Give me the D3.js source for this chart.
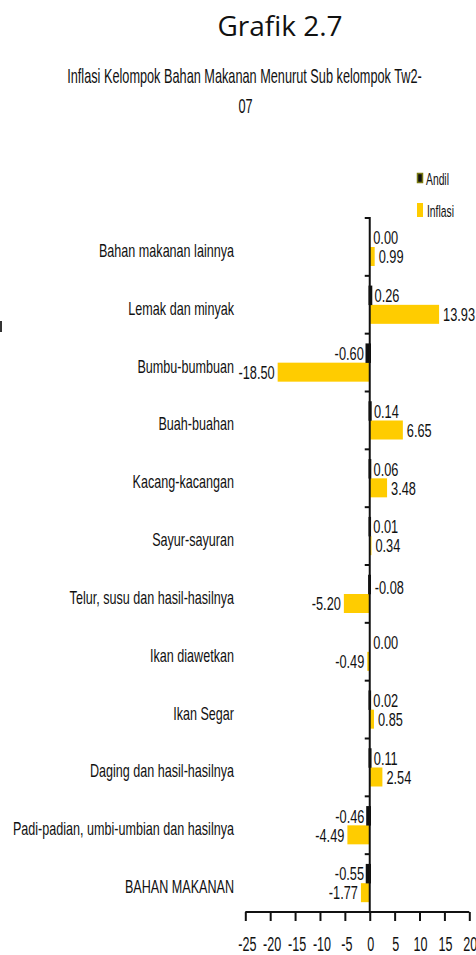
<!DOCTYPE html>
<html>
<head>
<meta charset="utf-8">
<script src="https://cdn.jsdelivr.net/npm/d3@7"></script>
<style>
  html, body { margin: 0; padding: 0; background: #fff; }
  svg { display: block; }
</style>
</head>
<body>
<svg id="chart" width="476" height="955"></svg>
<script>
// ---- data ----
const categories = [
  "Bahan makanan lainnya",
  "Lemak dan minyak",
  "Bumbu-bumbuan",
  "Buah-buahan",
  "Kacang-kacangan",
  "Sayur-sayuran",
  "Telur, susu dan hasil-hasilnya",
  "Ikan diawetkan",
  "Ikan Segar",
  "Daging dan hasil-hasilnya",
  "Padi-padian, umbi-umbian dan hasilnya",
  "BAHAN MAKANAN"
];
const andil   = [0.00, 0.26, -0.60, 0.14, 0.06, 0.01, -0.08, 0.00, 0.02, 0.11, -0.46, -0.55];
const inflasi = [0.99, 13.93, -18.50, 6.65, 3.48, 0.34, -5.20, -0.49, 0.85, 2.54, -4.49, -1.77];
const seriesNames = ["Andil", "Inflasi"];
const xTicks = [-25, -20, -15, -10, -5, 0, 5, 10, 15, 20];
const titleText = "Grafik 2.7";
const subtitleLines = ["Inflasi Kelompok Bahan Makanan Menurut Sub kelompok Tw2-", "07"];

// ---- setup ----
const svg = d3.select("#chart");
const FONT = "'Liberation Sans', Arial, sans-serif";
const YELLOW = "#FFCC00";

// horizontal compression factor so that a reference string reaches a target width
function squeeze(str, size, target) {
  const t = svg.append("text").style("font-family", FONT).style("font-size", size + "px").text(str);
  const w = t.node().getComputedTextLength();
  t.remove();
  return target / w;
}

function txt(g, x, y, str, o) {
  const t = g.append("text")
    .attr("transform", `translate(${x},${y}) scale(${o.sx || 1},1)`)
    .attr("text-anchor", o.anchor || "start")
    .style("font-family", o.family || FONT)
    .style("font-size", o.size + "px")
    .style("fill", o.fill || "#111")
    .text(str);
  if (o.dy) t.attr("dy", o.dy);
  return t;
}

const x = d3.scaleLinear().domain([-25, 20]).range([245.3, 469.3]);
const y = d3.scaleBand().domain(categories).range([218, 912]);
const ySub = d3.scaleBand().domain(seriesNames).range([10, 48]);

// title
txt(svg, 280, 36, titleText, {size: 28, family: "'Open Sans', 'DejaVu Sans', sans-serif", anchor: "middle"});
const subSx = squeeze(subtitleLines[0], 20.5, 355);
txt(svg, 244.5, 83, subtitleLines[0], {size: 20.5, sx: subSx, anchor: "middle"});
txt(svg, 245.5, 113, subtitleLines[1], {size: 20.5, sx: subSx, anchor: "middle"});

// stray mark on the left edge
svg.append("rect").attr("x", 0).attr("y", 321).attr("width", 2).attr("height", 11).attr("fill", "#333");

// legend
const lg = svg.append("g");
const legSx = squeeze("Andil", 16.5, 23);
lg.append("rect").attr("x", 417.5).attr("y", 173.5).attr("width", 5).attr("height", 9)
  .attr("fill", "#111").attr("stroke", "#7a7a10").attr("stroke-width", 1.5);
txt(lg, 426, 185, seriesNames[0], {size: 16.5, sx: legSx});
lg.append("rect").attr("x", 417).attr("y", 203).attr("width", 6).attr("height", 14).attr("fill", YELLOW);
txt(lg, 427, 216.5, seriesNames[1], {size: 16.5, sx: legSx});

// bars
const rows = categories.map((c, i) => ({c, a: andil[i], f: inflasi[i]}));
const g = svg.append("g");

g.selectAll("rect.inf").data(rows).join("rect").attr("class", "inf")
  .attr("x", d => Math.min(x(0), x(d.f)))
  .attr("width", d => Math.abs(x(d.f) - x(0)))
  .attr("y", d => y(d.c) + ySub("Inflasi"))
  .attr("height", ySub.bandwidth())
  .attr("fill", YELLOW);

g.selectAll("rect.and").data(rows.filter(d => d.a !== 0)).join("rect").attr("class", "and")
  .attr("x", d => Math.min(x(0), x(d.a)))
  .attr("width", d => Math.abs(x(d.a) - x(0)))
  .attr("y", d => y(d.c) + ySub("Andil") + 1)
  .attr("height", ySub.bandwidth() - 2)
  .attr("fill", "#111").attr("stroke", "#111").attr("stroke-width", 2.5);

// axes
const axG = svg.append("g");
axG.append("line").attr("x1", x(0)).attr("x2", x(0)).attr("y1", 217).attr("y2", 913)
  .attr("stroke", "#111").attr("stroke-width", 2);
const bounds = categories.map(c => y(c));
axG.selectAll("line.yt").data(bounds).join("line").attr("class", "yt")
  .attr("x1", x(0) - 5).attr("x2", x(0)).attr("y1", d => d).attr("y2", d => d)
  .attr("stroke", "#111").attr("stroke-width", 2);

const xAxis = d3.axisBottom(x).tickValues(xTicks).tickSize(9).tickFormat(d3.format("d"));
const xg = svg.append("g").attr("transform", "translate(0,912)").call(xAxis);
xg.select(".domain").attr("stroke", "#111").attr("stroke-width", 2)
  .attr("d", `M${x(-25)},0H${x(20)}`);
xg.selectAll(".tick line").attr("stroke", "#111").attr("stroke-width", 2);
xg.selectAll(".tick text").remove();
const tickSx = squeeze("10", 19.5, 14);
xTicks.forEach(v => txt(svg, x(v) + (v < 0 ? 2 : 1), 950.5, String(v), {size: 19.5, sx: tickSx, anchor: "middle"}));

// category labels
const catSx = squeeze(categories[0], 17.8, 135);
rows.forEach(d => {
  txt(svg, 234, y(d.c) + y.bandwidth() / 2 + 10, d.c, {size: 17.8, sx: catSx, anchor: "end"});
});

// data labels
const LS = 18.5;
const LSX = squeeze("13.93", LS, 32);
rows.forEach(d => {
  const ay = y(d.c) + ySub("Andil") + ySub.bandwidth() / 2;
  const fy = y(d.c) + ySub("Inflasi") + ySub.bandwidth() / 2;
  const al = d.a.toFixed(2);
  if (d.a >= 0) txt(svg, x(d.a) + 3.5, ay, al, {size: LS, sx: LSX, dy: "0.36em"});
  else if (Math.abs(d.a) < 0.1) txt(svg, x(0) + 5, ay + 3, al, {size: LS, sx: LSX, dy: "0.36em"});
  else txt(svg, x(d.a) - 3, ay, al, {size: LS, sx: LSX, anchor: "end", dy: "0.36em"});
  const fl = d.f.toFixed(2);
  if (d.f >= 0) txt(svg, x(d.f) + 4, fy, fl, {size: LS, sx: LSX, dy: "0.36em"});
  else txt(svg, x(d.f) - 3, fy, fl, {size: LS, sx: LSX, anchor: "end", dy: "0.36em"});
});
</script>
</body>
</html>
